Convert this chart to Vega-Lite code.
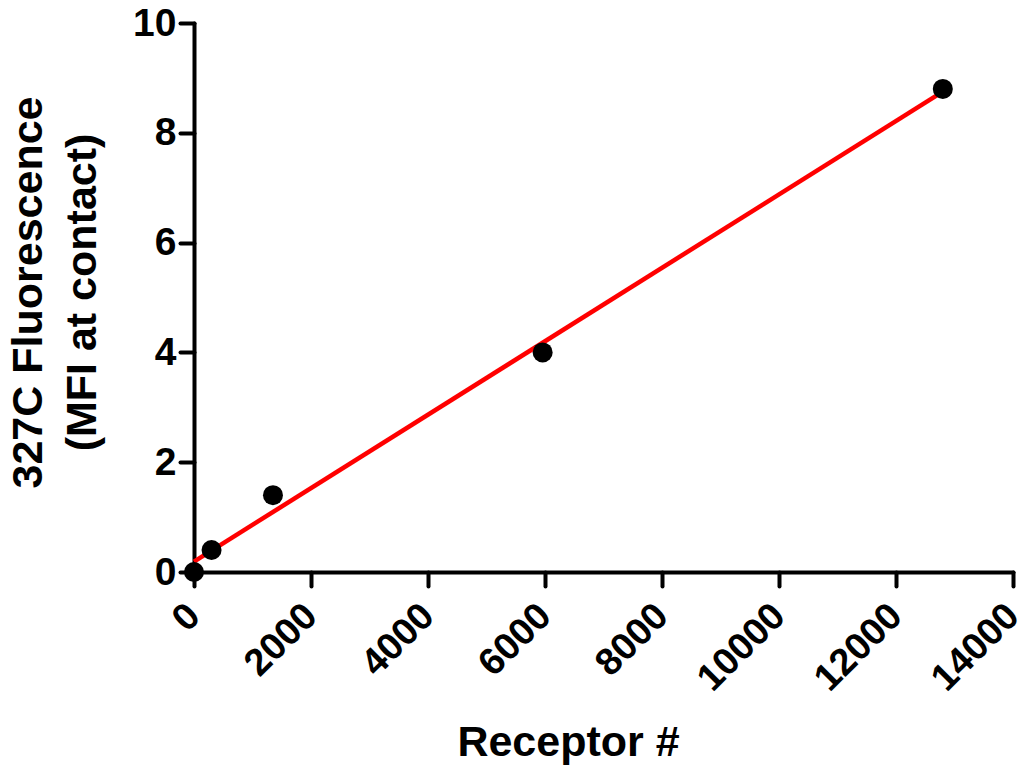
{
  "$schema": "https://vega.github.io/schema/vega-lite/v6.json",
  "width": 819,
  "height": 549,
  "autosize": {"type": "none"},
  "padding": {"left": 194, "top": 23, "right": 8, "bottom": 197},
  "background": "white",
  "config": {
    "font": "Liberation Sans",
    "view": {"stroke": null}
  },
  "data": {
    "values": [
      {"receptor": 0, "mfi": 0},
      {"receptor": 300, "mfi": 0.4},
      {"receptor": 1350, "mfi": 1.4},
      {"receptor": 5960, "mfi": 4.0},
      {"receptor": 12800, "mfi": 8.8}
    ]
  },
  "encoding": {
    "x": {
      "field": "receptor",
      "type": "quantitative",
      "scale": {"domain": [0, 14000], "nice": false, "zero": false},
      "axis": {
        "values": [0, 2000, 4000, 6000, 8000, 10000, 12000, 14000],
        "format": "d",
        "grid": false,
        "domainColor": "black",
        "domainWidth": 4,
        "domainCap": "round",
        "tickColor": "black",
        "tickWidth": 4,
        "tickSize": 14,
        "tickCap": "round",
        "labelAngle": -45,
        "labelAlign": "right",
        "labelBaseline": "middle",
        "labelPadding": 24,
        "labelFont": "Liberation Sans",
        "labelFontWeight": "bold",
        "labelFontSize": 38,
        "labelColor": "black",
        "labelOverlap": false,
        "labelFlush": false,
        "labelBound": false,
        "title": "Receptor #",
        "titleFont": "Liberation Sans",
        "titleFontWeight": "bold",
        "titleFontSize": 43,
        "titleColor": "black",
        "titleAnchor": null,
        "titleAlign": "center",
        "titleBaseline": "middle",
        "titleX": 374,
        "titleY": 170
      }
    },
    "y": {
      "field": "mfi",
      "type": "quantitative",
      "scale": {"domain": [0, 10], "nice": false, "zero": false},
      "axis": {
        "values": [0, 2, 4, 6, 8, 10],
        "grid": false,
        "domainColor": "black",
        "domainWidth": 4,
        "domainCap": "round",
        "tickColor": "black",
        "tickWidth": 4,
        "tickSize": 14,
        "tickCap": "round",
        "labelPadding": 4,
        "labelFont": "Liberation Sans",
        "labelFontWeight": "bold",
        "labelFontSize": 39,
        "labelColor": "black",
        "labelFlush": false,
        "title": ["327C Fluorescence", "(MFI at contact)"],
        "titleFont": "Liberation Sans",
        "titleFontWeight": "bold",
        "titleFontSize": 43,
        "titleColor": "black",
        "titleAngle": -90,
        "titleAlign": "center",
        "titleBaseline": "middle",
        "titleLineHeight": 54,
        "titleAnchor": null,
        "titleX": -166,
        "titleY": 269
      }
    }
  },
  "layer": [
    {
      "transform": [
        {"regression": "mfi", "on": "receptor", "extent": [0, 12800]}
      ],
      "mark": {"type": "line", "color": "#ff0000", "strokeWidth": 4.5, "clip": false}
    },
    {
      "mark": {"type": "point", "shape": "circle", "filled": true, "color": "black", "opacity": 1, "size": 400, "clip": false}
    }
  ]
}
